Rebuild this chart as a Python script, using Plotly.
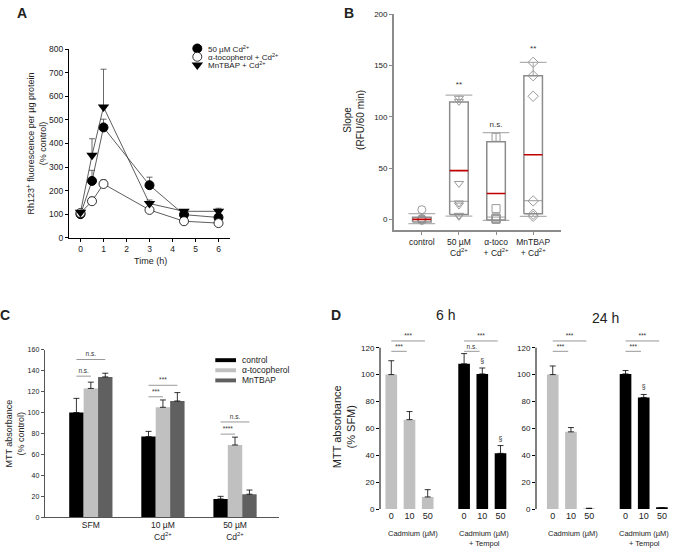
import plotly.graph_objects as go

W, H = 676, 554
FONT = "Liberation Sans, Arial, sans-serif"

# ---------------- Panel A: Rh123+ fluorescence time course ----------------
time_h = [0, 0.5, 1, 3, 4.5, 6]
cd50_mean = [100, 241, 468, 223, 98, 86]
cd50_err = [8, 45, 35, 34, 16, 14]
toco_mean = [105, 155, 228, 118, 70, 62]
toco_err = [5, 17, 17, 6, 6, 5]
mntbap_mean = [108, 350, 555, 145, 112, 112]
mntbap_err = [6, 70, 160, 15, 6, 13]
legend_a = ["50 µM Cd<sup>2+</sup>", "α-tocopherol + Cd<sup>2+</sup>", "MnTBAP + Cd<sup>2+</sup>"]

# ---------------- Panel B: slope box plots ----------------
b_labels = ["control", "50 µM<br>Cd<sup>2+</sup>", "α-toco<br>+ Cd<sup>2+</sup>", "MnTBAP<br>+ Cd<sup>2+</sup>"]
b_q1 = [-2.5, 4.8, -0.7, 5.4]
b_median = [0, 47.5, 25.2, 63]
b_q3 = [2.2, 114.5, 75.6, 140]
b_low = [-4.2, 3.2, -1, 2.9]
b_high = [5.7, 121, 84.5, 153]
b_inner = [None, 17.5, 2.2, 18.2]
b_points = [
    [9.5, 1, 0, -1, 0.5, -0.5],
    [118, 115, 35, 16, 14, 4, 3],
    [80, 10.5, 1.5, 0.5, 0, 1],
    [153, 140, 120, 18, 5, 3],
]
b_sig = ["", "**", "n.s.", "**"]
b_sig_y = [None, 131, 92, 166]

# ---------------- Panel C: MTT, antioxidants ----------------
c_groups = ["SFM", "10 µM<br>Cd<sup>2+</sup>", "50 µM<br>Cd<sup>2+</sup>"]
c_series = ["control", "α-tocopherol", "MnTBAP"]
c_control = [100, 77, 17.5]
c_control_err = [13.5, 5, 2.5]
c_toco = [123, 105, 69]
c_toco_err = [6, 7, 7.5]
c_mntbap = [134, 111, 22]
c_mntbap_err = [3.5, 8, 4]
# (group, series from, series to, y, label)
c_brackets = [
    (0, 0, 2, 150.6, "n.s."), (0, 0, 1, 134.7, "n.s."),
    (1, 0, 2, 126, "***"), (1, 0, 1, 115, "***"),
    (2, 0, 2, 91, "n.s."), (2, 0, 1, 79.4, "****"),
]

# ---------------- Panel D: MTT, Tempol ----------------
d_doses = ["0", "10", "50"]
d6_cd = [100, 66.5, 9]
d6_cd_err = [10.3, 6, 5.4]
d6_tempol = [108, 100.5, 41.4]
d6_tempol_err = [7.6, 4.4, 5.8]
d24_cd = [100, 57.4, 0.5]
d24_cd_err = [6.4, 3.2, 0]
d24_tempol = [100.5, 83, 0.8]
d24_tempol_err = [2.5, 2.2, 0]
d6_section = [False, True, True]
d24_section = [False, True, False]
# (bar from, bar to, y, label) ; bars 0-2 cadmium, 4-6 cadmium + Tempol
d6_brackets = [(0, 2, 125, "***"), (0, 1, 117.3, "***"), (4, 6, 125, "***"), (4, 5, 117.3, "n.s.")]
d24_brackets = [(0, 2, 125, "***"), (0, 1, 117.3, "***"), (4, 6, 125, "***"), (4, 5, 117.3, "***")]


def xd(a, b):
    return [a / W, b / W]


def yd(top, bottom):
    return [1 - bottom / H, 1 - top / H]


def axis(domain, rng, **kw):
    d = dict(domain=domain, range=rng, showgrid=False, zeroline=False, showline=True,
             linecolor="black", linewidth=1, ticks="outside", ticklen=3, tickwidth=1,
             tickcolor="black", tickfont=dict(size=8, color="#222", family=FONT))
    d.update(kw)
    return d


fig = go.Figure()

# ---- A ----
styles_a = [
    dict(symbol="circle", color="black", size=9, line=dict(color="black", width=1)),
    dict(symbol="circle", color="white", size=9, line=dict(color="black", width=0.8)),
    dict(symbol="triangle-down", color="black", size=10, line=dict(color="black", width=0)),
]
for mean, err, st in zip([cd50_mean, toco_mean, mntbap_mean],
                         [cd50_err, toco_err, mntbap_err], styles_a):
    fig.add_trace(go.Scatter(
        x=time_h, y=mean, mode="lines+markers", xaxis="x", yaxis="y",
        line=dict(color="#333", width=0.8), marker=st,
        error_y=dict(type="data", symmetric=False, array=err, arrayminus=[0] * len(err),
                     color="#444", thickness=0.8, width=3),
    ))

# legend A (drawn on an overlay pixel axis)
for i, (st, lab) in enumerate(zip(styles_a, legend_a)):
    yy = 44.3 + 8.4 * i
    fig.add_trace(go.Scatter(x=[197.3], y=[yy], mode="markers", marker=st,
                             xaxis="x6", yaxis="y6", hoverinfo="skip"))
    fig.add_annotation(x=206 / W, y=1 - yy / H, xref="paper", yref="paper", text=lab,
                       showarrow=False, xanchor="left", yanchor="middle",
                       font=dict(size=8, color="#222", family=FONT))

# ---- B ----
grey = "#8c8c8c"
bx, by, cx, cy, mx, my, ix, iy = [], [], [], [], [], [], [], []
for i in range(len(b_labels)):
    bx += [i - 0.25, i + 0.25, i + 0.25, i - 0.25, i - 0.25, None]
    by += [b_q1[i], b_q1[i], b_q3[i], b_q3[i], b_q1[i], None]
    cx += [i - 0.36, i + 0.36, None, i - 0.36, i + 0.36, None, i, i, None, i, i, None]
    cy += [b_high[i], b_high[i], None, b_low[i], b_low[i], None,
           b_q3[i], b_high[i], None, b_q1[i], b_low[i], None]
    mx += [i - 0.25, i + 0.25, None]
    my += [b_median[i], b_median[i], None]
    if b_inner[i] is not None:
        ix += [i - 0.25, i + 0.25, None]
        iy += [b_inner[i], b_inner[i], None]

fig.add_trace(go.Scatter(x=cx, y=cy, mode="lines", line=dict(color="#b0b0b0", width=1.2),
                         xaxis="x2", yaxis="y2", hoverinfo="skip"))
fig.add_trace(go.Scatter(x=ix, y=iy, mode="lines", line=dict(color="#b0b0b0", width=1.2),
                         xaxis="x2", yaxis="y2", hoverinfo="skip"))
b_symbols = ["circle-open", "triangle-down-open", "square-open", "diamond-open"]
for i, pts in enumerate(b_points):
    fig.add_trace(go.Scatter(x=[i] * len(pts), y=pts, mode="markers", xaxis="x2", yaxis="y2",
                             marker=dict(symbol=b_symbols[i], size=8, color="#9a9a9a",
                                         line=dict(width=1))))
fig.add_trace(go.Scatter(x=bx, y=by, mode="lines", line=dict(color=grey, width=1.5),
                         xaxis="x2", yaxis="y2", hoverinfo="skip"))
fig.add_trace(go.Scatter(x=mx, y=my, mode="lines", line=dict(color="#c00000", width=1.6),
                         xaxis="x2", yaxis="y2", hoverinfo="skip"))
sig_x = [i for i, s in enumerate(b_sig) if s]
fig.add_trace(go.Scatter(x=sig_x, y=[b_sig_y[i] for i in sig_x], text=[b_sig[i] for i in sig_x],
                         mode="text", textfont=dict(size=8, color="#333", family=FONT),
                         xaxis="x2", yaxis="y2", cliponaxis=False))

# ---- C ----
c_colors = ["#000000", "#c0c0c0", "#606060"]
for name, vals, errs, col in zip(c_series, [c_control, c_toco, c_mntbap],
                                 [c_control_err, c_toco_err, c_mntbap_err], c_colors):
    fig.add_trace(go.Bar(
        x=list(range(len(c_groups))), y=vals, name=name, marker=dict(color=col, line=dict(width=0)),
        xaxis="x3", yaxis="y3",
        error_y=dict(type="data", symmetric=False, array=errs, arrayminus=[0] * len(errs),
                     color="black", thickness=0.8, width=3),
    ))
bw = 0.2
lx, ly, tx, ty, tt = [], [], [], [], []
for g, s0, s1, yv, lab in c_brackets:
    x0 = g + (s0 - 1) * bw
    x1 = g + (s1 - 1) * bw
    lx += [x0, x1, None]
    ly += [yv, yv, None]
    tx.append((x0 + x1) / 2)
    ty.append(yv + 4.5)
    tt.append(lab)
fig.add_trace(go.Scatter(x=lx, y=ly, mode="lines", line=dict(color="#999", width=1),
                         xaxis="x3", yaxis="y3", hoverinfo="skip"))
fig.add_trace(go.Scatter(x=tx, y=ty, text=tt, mode="text", cliponaxis=False,
                         textfont=dict(size=6.5, color="#333", family=FONT), xaxis="x3", yaxis="y3"))

# legend C
for i, (name, col) in enumerate(zip(c_series, c_colors)):
    yy = 361.7 + 10.3 * i
    fig.add_shape(type="rect", xref="paper", yref="paper", x0=215.3 / W, x1=236 / W,
                  y0=1 - (yy + 2) / H, y1=1 - (yy - 2) / H, fillcolor=col, line=dict(width=0))
    fig.add_annotation(x=240 / W, y=1 - yy / H, xref="paper", yref="paper", text=name,
                       showarrow=False, xanchor="left", yanchor="middle",
                       font=dict(size=8.5, color="#222", family=FONT))

# ---- D ----
positions = [0, 1, 2, 4, 5, 6]
bar_cols = ["#c0c0c0"] * 3 + ["#000000"] * 3
for (cd, cde, te, tee, sec, brk, xa, ya) in [
    (d6_cd, d6_cd_err, d6_tempol, d6_tempol_err, d6_section, d6_brackets, "x4", "y4"),
    (d24_cd, d24_cd_err, d24_tempol, d24_tempol_err, d24_section, d24_brackets, "x5", "y5"),
]:
    vals = cd + te
    errs = cde + tee
    fig.add_trace(go.Bar(
        x=positions, y=vals, width=0.64, marker=dict(color=bar_cols, line=dict(width=0)),
        xaxis=xa, yaxis=ya,
        error_y=dict(type="data", symmetric=False, array=errs, arrayminus=[0] * 6,
                     color="black", thickness=0.8, width=3),
    ))
    sx = [positions[3 + k] for k in range(3) if sec[k]]
    sy = [te[k] + tee[k] + 5 for k in range(3) if sec[k]]
    fig.add_trace(go.Scatter(x=sx, y=sy, text=["§"] * len(sx), mode="text", cliponaxis=False,
                             textfont=dict(size=7, color="#333", family=FONT), xaxis=xa, yaxis=ya))
    lx, ly, tx, ty, tt = [], [], [], [], []
    for a, b, yv, lab in brk:
        lx += [a, b - 0.15, None]
        ly += [yv, yv, None]
        tx.append((a + b - 0.15) / 2)
        ty.append(yv + 3.2)
        tt.append(lab)
    fig.add_trace(go.Scatter(x=lx, y=ly, mode="lines", line=dict(color="#999", width=1),
                             xaxis=xa, yaxis=ya, hoverinfo="skip"))
    fig.add_trace(go.Scatter(x=tx, y=ty, text=tt, mode="text", cliponaxis=False,
                             textfont=dict(size=6.5, color="#333", family=FONT), xaxis=xa, yaxis=ya))

# ---------------- layout ----------------
dA_x, dA_y = xd(69, 230), yd(45, 237)
dB_x, dB_y = xd(394, 561), yd(9.3, 228.8)
dC_x, dC_y = xd(44.7, 279), yd(351, 521.7)
d4_x, d5_x = xd(380, 511.8), xd(536, 673.2)
dD_y = yd(335.3, 513.3)
d_top = 130

fig.update_layout(
    width=W, height=H, margin=dict(l=0, r=0, t=0, b=0),
    paper_bgcolor="white", plot_bgcolor="rgba(0,0,0,0)", showlegend=False,
    font=dict(family=FONT, color="#222"),
    barmode="group", bargap=0.4, bargroupgap=0,
    xaxis=axis(dA_x, [-0.5, 6.5], anchor="y", tickvals=list(range(7)), tickfont=dict(size=8.5)),
    yaxis=axis(dA_y, [0, 800], anchor="x", dtick=100, tickfont=dict(size=8.5)),
    xaxis2=axis(dB_x, [-0.75, 3.75], anchor="y2", tickvals=list(range(4)), ticktext=b_labels,
                linecolor=grey, linewidth=1.8, tickcolor=grey, tickfont=dict(size=8.5)),
    yaxis2=axis(dB_y, [-10, 200], anchor="x2", tickvals=[0, 50, 100, 150, 200],
                linecolor=grey, linewidth=1.8, tickcolor=grey, tickfont=dict(size=8)),
    xaxis3=axis(dC_x, [-0.64, 2.61], anchor="y3", tickvals=list(range(3)), ticktext=c_groups,
                ticks="", linecolor="#555", tickfont=dict(size=8.5)),
    yaxis3=axis(dC_y, [0, 160], anchor="x3", dtick=20, linecolor="#555", tickcolor="#555",
                tickfont=dict(size=7)),
    xaxis4=axis(d4_x, [-0.62, 6.62], anchor="y4", tickvals=positions, ticktext=d_doses * 2,
                showline=False, ticks="", tickfont=dict(size=9)),
    yaxis4=axis(dD_y, [0, d_top], anchor="x4", tickvals=list(range(0, 121, 20)), showline=False,
                tickfont=dict(size=8)),
    xaxis5=axis(d5_x, [-0.92, 6.62], anchor="y5", tickvals=positions, ticktext=d_doses * 2,
                showline=False, ticks="", tickfont=dict(size=9)),
    yaxis5=axis(dD_y, [0, d_top], anchor="x5", tickvals=list(range(0, 121, 20)), showline=False,
                tickfont=dict(size=8)),
    xaxis6=dict(domain=[0, 1], range=[0, W], visible=False, anchor="y6", fixedrange=True),
    yaxis6=dict(domain=[0, 1], range=[H, 0], visible=False, anchor="x6", fixedrange=True),
)

# y-axis lines for D stop at 120
for dx in (d4_x, d5_x):
    fig.add_shape(type="line", xref="paper", yref="paper", x0=dx[0], x1=dx[0], y0=dD_y[0],
                  y1=dD_y[0] + (dD_y[1] - dD_y[0]) * 120 / d_top, line=dict(color="black", width=1))


def label(x, y, text, size, angle=0, color="#222"):
    fig.add_annotation(x=x / W, y=1 - y / H, xref="paper", yref="paper", text=text,
                       showarrow=False, textangle=angle, xanchor="center", yanchor="middle",
                       font=dict(size=size, color=color, family=FONT))


# panel letters
for t, x, y in [("A", 21.5, 8.5), ("B", 349, 8.5), ("C", 5, 316), ("D", 336, 316)]:
    label(x, y, "<b>%s</b>" % t, 14)

# axis titles
label(36, 141, "Rh123<sup>+</sup> fluorescence per µg protein<br>(% control)", 9, angle=-90)
label(150, 261, "Time (h)", 9)
label(354, 117, "Slope<br>(RFU/60 min)", 10, angle=-90)
label(15.5, 437, "MTT absorbance<br>(% control)", 9, angle=-90)
label(344, 430, "MTT absorbance<br>(% SFM)", 11, angle=-90)
label(445.7, 316, "6 h", 14)
label(605.7, 318.7, "24 h", 14)
for xc in (412.7, 484.3, 573.3, 644):
    label(xc, 538.5, "Cadmium (µM)", 7.5)
for xc in (484.3, 644):
    label(xc, 548, "+ Tempol", 7.5)

fig.write_html("out.html", config={"displayModeBar": False},
               post_script="document.body.style.margin='0';")
